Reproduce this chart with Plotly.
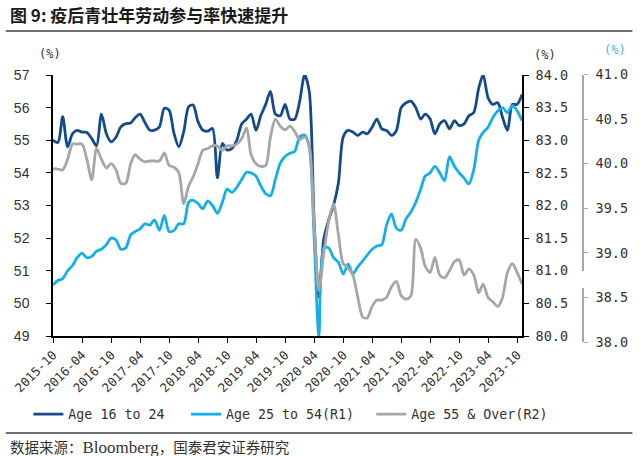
import plotly.graph_objects as go
import pandas as pd

# ---------------- data (monthly, month-end) ----------------
dates = pd.date_range("2015-09-30", periods=98, freq="ME")

age_16_24 = [
    55.0, 54.93, 55.72, 54.8, 55.2, 55.3, 55.25, 55.24, 55.05, 54.83,
    55.8, 55.2, 54.95, 55.1, 55.41, 55.51, 55.53, 55.69, 55.8, 55.55,
    55.31, 55.31, 55.41, 55.98, 55.92, 55.2, 54.8, 55.26, 56.03, 56.08,
    55.57, 55.31, 55.28, 55.36, 53.85, 54.9, 54.7, 54.75, 55.0, 55.5,
    55.65, 55.8, 55.3, 55.75, 56.1, 56.5, 55.8, 55.75, 56.1, 55.65,
    55.65, 56.2, 57.0, 56.5, 52.5, 50.2, 51.98, 52.55, 53.0, 53.7,
    55.1, 55.3, 55.25, 55.15, 55.25, 55.2, 55.4, 55.65, 55.35, 55.3,
    55.15, 55.3, 56.0, 56.15, 56.2, 56.0, 55.65, 55.8, 55.65, 55.2,
    55.5, 55.6, 55.35, 55.6, 55.45, 55.5, 55.75, 55.85, 56.6, 57.0,
    56.3, 56.1, 56.15, 55.7, 55.3, 56.1, 56.1, 56.4,
]

age_25_54 = [
    80.78, 80.85, 80.88, 81.0, 81.08, 81.2, 81.27, 81.2, 81.22, 81.3,
    81.33, 81.4, 81.5, 81.47, 81.33, 81.35, 81.55, 81.6, 81.64, 81.72,
    81.7, 81.78, 81.62, 81.85, 81.6, 81.62, 81.72, 81.72, 82.05, 82.08,
    82.03, 81.95, 82.07, 82.0, 81.88, 82.05, 82.25, 82.2, 82.28, 82.4,
    82.51, 82.5, 82.45, 82.3, 82.18, 82.15, 82.4, 82.65, 82.75, 82.8,
    82.83, 83.05, 83.08, 82.9, 81.5, 80.0, 81.35, 81.35, 81.2, 81.13,
    80.95, 81.1, 80.95, 81.06, 81.15, 81.24, 81.33, 81.38, 81.4, 81.7,
    81.87, 81.65, 81.62, 81.8, 81.9, 82.05, 82.25, 82.45, 82.5, 82.6,
    82.5, 82.38, 82.75, 82.6, 82.5, 82.42, 82.33, 82.55, 83.0, 83.12,
    83.2, 83.35, 83.45, 83.5, 83.42, 83.53, 83.45, 83.3,
]

age_55_over = [
    39.94, 39.94, 39.93, 40.05, 40.22, 40.22, 40.22, 40.05, 39.82, 40.17,
    40.05, 39.95, 40.0, 39.93, 39.78, 39.78, 40.0, 40.1, 40.05, 40.02,
    40.03, 40.03, 40.03, 40.12, 39.98, 39.96, 39.9, 39.55, 39.75, 39.85,
    40.0, 40.15, 40.17, 40.2, 40.2, 40.15, 40.2, 40.2, 40.22, 40.28,
    40.4, 40.1, 40.0, 39.97, 39.98, 40.3, 40.5, 40.42, 40.38, 40.42,
    40.36, 40.27, 40.3, 40.2, 39.3, 38.58, 39.0, 39.35, 39.55, 39.2,
    38.88, 38.83, 38.75, 38.5, 38.28, 38.27, 38.4, 38.47, 38.47, 38.5,
    38.62, 38.68, 38.52, 38.48, 38.52, 39.15, 39.05, 38.85, 38.78, 38.95,
    38.75, 38.72, 38.8, 38.9, 38.92, 38.75, 38.82, 38.75, 38.55, 38.65,
    38.5, 38.45, 38.4, 38.5, 38.78, 38.88, 38.78, 38.65,
]

series_names = ["Age 16 to 24", "Age 25 to 54(R1)", "Age 55 & Over(R2)"]
tick_dates = pd.date_range("2015-10-01", "2023-10-01", freq="6MS")

title_text = "图 9: 疫后青壮年劳动参与率快速提升"
source_cn1 = "数据来源："
source_en = "Bloomberg"
source_cn2 = "，国泰君安证券研究"

# ---------------- layout geometry ----------------
W, H = 640, 456
L, R, T, B = 50, 40, 74, 114
PW = W - L - R
PH = H - T - B


def px(x):
    return (x - L) / PW


def py(y):
    return (H - B - y) / PH


C_DARK = "#154A8C"
C_CYAN = "#14AFEA"
C_GRAY = "#A6A6A6"
TXT = "#333333"
MONO = "DejaVu Sans Mono"

fig = go.Figure()
fig.add_trace(go.Scatter(x=dates, y=age_16_24, name=series_names[0], mode="lines",
                         line=dict(color=C_DARK, width=2.8, shape="spline", smoothing=0.8),
                         xaxis="x", yaxis="y", legend="legend"))
fig.add_trace(go.Scatter(x=dates, y=age_25_54, name=series_names[1], mode="lines",
                         line=dict(color=C_CYAN, width=2.8, shape="spline", smoothing=0.8),
                         xaxis="x", yaxis="y2", legend="legend2"))
fig.add_trace(go.Scatter(x=dates, y=age_55_over, name=series_names[2], mode="lines",
                         line=dict(color=C_GRAY, width=2.8, shape="spline", smoothing=0.8),
                         xaxis="x", yaxis="y3", legend="legend3"))

leg_common = dict(orientation="h", yanchor="top", xanchor="left",
                  bgcolor="rgba(0,0,0,0)", borderwidth=0,
                  font=dict(family=MONO, size=13.3, color=TXT), y=py(399))

fig.update_layout(
    width=W, height=H,
    margin=dict(l=L, r=R, t=T, b=B, pad=0),
    paper_bgcolor="white", plot_bgcolor="rgba(0,0,0,0)",
    showlegend=True,
    legend=dict(x=px(25), **leg_common),
    legend2=dict(x=px(185), **leg_common),
    legend3=dict(x=px(373), **leg_common),
    xaxis=dict(type="date", range=[dates[0], dates[-1]], domain=[0, px(526)],
               anchor="y", tickvals=list(tick_dates), tickformat="%Y-%m",
               tickangle=-45, ticks="outside", ticklen=5, tickcolor="black",
               showline=True, linecolor="black", linewidth=1.5,
               showgrid=False, zeroline=False,
               tickfont=dict(family=MONO, size=12.5, color=TXT)),
    yaxis=dict(range=[49, 57], tick0=49, dtick=1, domain=[py(336), py(75)],
               anchor="x", side="left", showline=True, linecolor="black", linewidth=1.5,
               ticks="outside", ticklen=5, tickcolor="black", ticklabelstandoff=14,
               showgrid=False, zeroline=False,
               tickfont=dict(family="Liberation Sans", size=14, color=TXT)),
    yaxis2=dict(range=[80, 84], tick0=80, dtick=0.5, tickformat=".1f",
                overlaying="y", side="right", anchor="x",
                showline=True, linecolor="black", linewidth=1.5,
                ticks="outside", ticklen=5, tickcolor="black", ticklabelstandoff=4,
                showgrid=False, zeroline=False,
                tickfont=dict(family=MONO, size=13.5, color=TXT)),
    yaxis3=dict(range=[38, 41], tick0=38, dtick=0.5, tickformat=".1f",
                side="right", anchor="free", position=px(588),
                domain=[py(342), py(74.5)],
                showline=True, linecolor=C_GRAY, linewidth=1.5,
                ticks="outside", ticklen=4, tickcolor=C_GRAY, ticklabelstandoff=5,
                showgrid=False, zeroline=False,
                tickfont=dict(family=MONO, size=13.5, color=TXT)),
)

shapes = [
    dict(type="line", xref="paper", yref="paper", x0=px(2), x1=px(638), y0=py(31), y1=py(31),
         line=dict(color="#404040", width=1.5)),
    dict(type="line", xref="paper", yref="paper", x0=px(2), x1=px(638), y0=py(433), y1=py(433),
         line=dict(color="#404040", width=1.5)),
    dict(type="rect", xref="paper", yref="paper", x0=px(585), x1=px(591), y0=py(288), y1=py(271),
         fillcolor="white", line=dict(width=0), layer="above"),
]
fig.update_layout(shapes=shapes)

annos = [
    dict(text="<b>" + title_text + "</b>", x=px(4), y=py(14), xanchor="left", yanchor="middle",
         font=dict(family="Noto Sans CJK SC", size=17, color="#1a1a1a")),
    dict(text=source_cn1 + "<span style='font-family:Liberation Serif;font-size:17px'>" + source_en
         + "</span>" + source_cn2,
         x=px(4), y=py(446), xanchor="left", yanchor="middle",
         font=dict(family="Noto Sans CJK SC", size=14.5, color=TXT)),
    dict(text="(%)", x=px(47), y=py(54), xanchor="center", yanchor="middle",
         font=dict(family=MONO, size=12, color=TXT)),
    dict(text="(%)", x=px(549), y=py(55), xanchor="center", yanchor="middle",
         font=dict(family=MONO, size=12, color=TXT)),
    dict(text="(%)", x=px(620), y=py(50), xanchor="center", yanchor="middle",
         font=dict(family=MONO, size=12, color="#3FB8EC")),
]
for a in annos:
    a.update(xref="paper", yref="paper", showarrow=False)
fig.update_layout(annotations=annos)

fig.write_html("out.html")
